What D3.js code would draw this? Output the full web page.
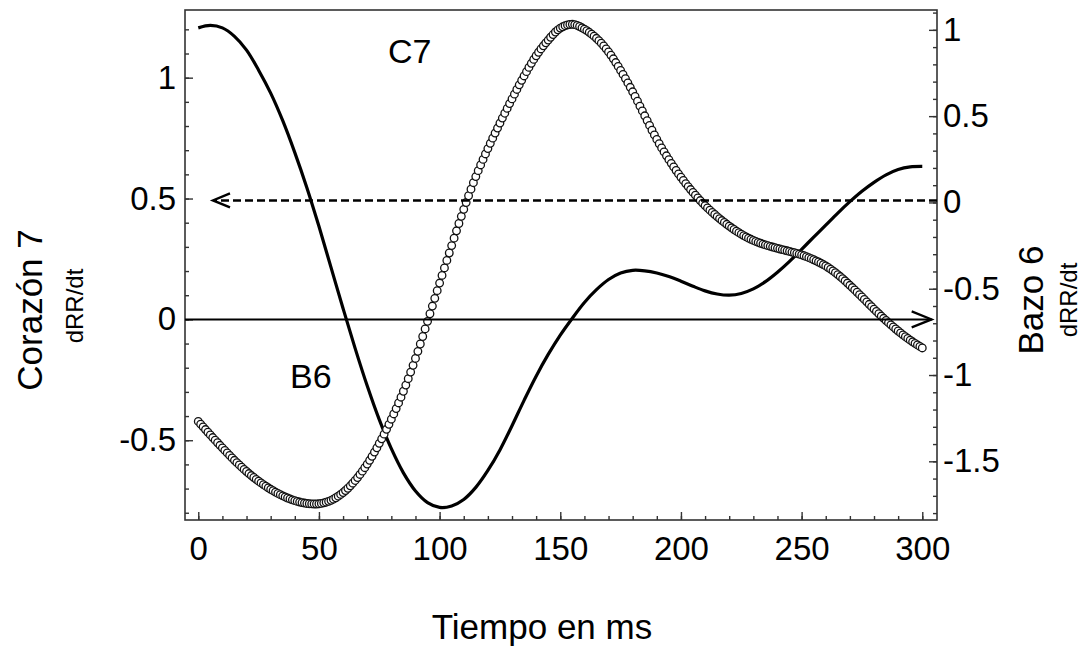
<!DOCTYPE html>
<html>
<head>
<meta charset="utf-8">
<script src="https://cdn.jsdelivr.net/npm/d3@7"></script>
<style>
  body { margin: 0; background: #fff; }
  text { font-family: "Liberation Sans", Arial, Helvetica, sans-serif; fill: #000; }
</style>
</head>
<body>
<svg width="1085" height="648"></svg>
<script>
// time axis (ms), one sample every 5 ms
var tiempo = d3.range(0, 301, 5);

// C7 - solid line, left axis
var corazon7 = [
  1.206, 1.216, 1.206, 1.171, 1.114, 1.031, 0.936, 0.822, 0.690, 0.545,
  0.385, 0.215, 0.045, -0.120, -0.275, -0.415, -0.535, -0.635, -0.710, -0.758,
  -0.778, -0.772, -0.745, -0.695, -0.625, -0.540, -0.440, -0.335, -0.235, -0.145,
  -0.065, 0.005, 0.070, 0.123, 0.165, 0.192, 0.203, 0.201, 0.192, 0.177,
  0.158, 0.137, 0.118, 0.105, 0.100, 0.107, 0.126, 0.156, 0.195, 0.240,
  0.290, 0.340, 0.390, 0.440, 0.487, 0.530, 0.567, 0.598, 0.620, 0.631,
  0.633
];

// B6 - open circles, right axis
var bazo6 = [
  -1.269, -1.347, -1.422, -1.494, -1.559, -1.615, -1.662, -1.700, -1.728, -1.744,
  -1.746, -1.726, -1.681, -1.611, -1.516, -1.396, -1.256, -1.094, -0.904, -0.689,
  -0.467, -0.250, -0.040, 0.150, 0.312, 0.460, 0.600, 0.733, 0.850, 0.941,
  1.010, 1.032, 1.004, 0.951, 0.872, 0.765, 0.641, 0.502, 0.365, 0.248,
  0.146, 0.058, -0.018, -0.082, -0.137, -0.184, -0.220, -0.246, -0.266, -0.284,
  -0.304, -0.332, -0.368, -0.418, -0.480, -0.548, -0.618, -0.684, -0.745, -0.798,
  -0.843
];

var xTicks = [0, 50, 100, 150, 200, 250, 300];
var yLeftTicks = [-0.5, 0, 0.5, 1];
var yRightTicks = [-1.5, -1, -0.5, 0, 0.5, 1];

var svg = d3.select("svg"),
    mLeft = 185, mRight = 937, mTop = 10, mBottom = 520;

var x = d3.scaleLinear().domain([-5.5, 306.1]).range([mLeft, mRight]);
var yL = d3.scaleLinear().domain([-0.83, 1.28]).range([mBottom, mTop]);
var yR = d3.scaleLinear().domain([-1.84, 1.115]).range([mBottom, mTop]);

var fmt = function (d) { return String(d); };

// minor ticks
svg.append("g")
    .attr("transform", "translate(0," + mBottom + ")")
    .call(d3.axisBottom(x).tickValues(d3.range(0, 301, 10)).tickSize(-4).tickFormat(""));
svg.append("g")
    .attr("transform", "translate(" + mLeft + ",0)")
    .call(d3.axisLeft(yL).tickValues(d3.range(-8, 13).map(function (d) { return d / 10; })).tickSize(-4).tickFormat(""));
svg.append("g")
    .attr("transform", "translate(" + mRight + ",0)")
    .call(d3.axisRight(yR).tickValues(d3.range(-18, 12).map(function (d) { return d / 10; })).tickSize(-4).tickFormat(""));

// major ticks + labels
svg.append("g")
    .attr("transform", "translate(0," + mBottom + ")")
    .call(d3.axisBottom(x).tickValues(xTicks).tickSize(-8).tickPadding(17).tickFormat(fmt));
svg.append("g")
    .attr("transform", "translate(" + mLeft + ",0)")
    .call(d3.axisLeft(yL).tickValues(yLeftTicks).tickSize(-8).tickPadding(9).tickFormat(fmt));
svg.append("g")
    .attr("transform", "translate(" + mRight + ",0)")
    .call(d3.axisRight(yR).tickValues(yRightTicks).tickSize(-8).tickPadding(6).tickFormat(fmt));

svg.selectAll(".domain").remove();
svg.selectAll(".tick line").attr("stroke", "#333").attr("stroke-width", 1.4);
svg.selectAll(".tick text").attr("font-size", 33).attr("fill", "#000")
    .style("font-family", "'Liberation Sans', Arial, sans-serif");

// frame
svg.append("rect")
    .attr("x", mLeft).attr("y", mTop)
    .attr("width", mRight - mLeft).attr("height", mBottom - mTop)
    .attr("fill", "none").attr("stroke", "#333").attr("stroke-width", 1.6);

var plot = svg.append("g");

// C7 solid curve
var lineL = d3.line()
    .x(function (d, i) { return x(tiempo[i]); })
    .y(function (d) { return yL(d); })
    .curve(d3.curveCatmullRom.alpha(0.5));

plot.append("path")
    .datum(corazon7)
    .attr("d", lineL)
    .attr("fill", "none")
    .attr("stroke", "#000")
    .attr("stroke-width", 3.2);

// B6 circles curve: markers placed along the drawn line, one per ms
var lineR = d3.line()
    .x(function (d, i) { return x(tiempo[i]); })
    .y(function (d) { return yR(d); })
    .curve(d3.curveCatmullRom.alpha(0.5));

var guide = plot.append("path")
    .datum(bazo6)
    .attr("d", lineR)
    .attr("fill", "none")
    .attr("stroke", "none");

var node = guide.node(),
    total = node.getTotalLength();

function pointAtX(px) {
    var lo = 0, hi = total, p;
    for (var k = 0; k < 40; k++) {
        var mid = (lo + hi) / 2;
        p = node.getPointAtLength(mid);
        if (p.x < px) lo = mid; else hi = mid;
    }
    return node.getPointAtLength((lo + hi) / 2);
}

var marks = d3.range(0, 301, 1).map(function (t) { return pointAtX(x(t)); });

plot.append("g")
    .selectAll("circle")
    .data(marks)
    .enter().append("circle")
    .attr("cx", function (d) { return d.x; })
    .attr("cy", function (d) { return d.y; })
    .attr("r", 3.8)
    .attr("fill", "#fff")
    .attr("stroke", "#111")
    .attr("stroke-width", 1.3);

// reference arrows
var arrowSolidY = yL(0),
    arrowSolidEnd = x(303.9);
plot.append("line")
    .attr("x1", mLeft).attr("x2", arrowSolidEnd)
    .attr("y1", arrowSolidY).attr("y2", arrowSolidY)
    .attr("stroke", "#000").attr("stroke-width", 2);
plot.append("path")
    .attr("d", "M" + (arrowSolidEnd - 20) + "," + (arrowSolidY - 8) + "L" + arrowSolidEnd + "," + arrowSolidY + "L" + (arrowSolidEnd - 20) + "," + (arrowSolidY + 8))
    .attr("fill", "none").attr("stroke", "#000").attr("stroke-width", 2.2);

var arrowDashY = (yL(0.5) + yR(0)) / 2,
    arrowDashEnd = x(6.1);
plot.append("line")
    .attr("x1", mRight).attr("x2", arrowDashEnd + 2)
    .attr("y1", arrowDashY).attr("y2", arrowDashY)
    .attr("stroke", "#000").attr("stroke-width", 2.6)
    .attr("stroke-dasharray", "8,4");
plot.append("path")
    .attr("d", "M" + (arrowDashEnd + 17) + "," + (arrowDashY - 7) + "L" + arrowDashEnd + "," + arrowDashY + "L" + (arrowDashEnd + 17) + "," + (arrowDashY + 7))
    .attr("fill", "none").attr("stroke", "#000").attr("stroke-width", 2.4);

// curve labels
plot.append("text").attr("x", x(78.6)).attr("y", yL(1.061)).attr("font-size", 34).text("C7");
plot.append("text").attr("x", x(38)).attr("y", yL(-0.284)).attr("font-size", 34).text("B6");

// axis titles
svg.append("text")
    .attr("x", (mLeft + mRight) / 2 - 19).attr("y", 639)
    .attr("text-anchor", "middle").attr("font-size", 35)
    .text("Tiempo en ms");

svg.append("text")
    .attr("transform", "translate(42,310) rotate(-90)")
    .attr("text-anchor", "middle").attr("font-size", 35)
    .text("Corazón 7");
svg.append("text")
    .attr("transform", "translate(83,306) rotate(-90)")
    .attr("text-anchor", "middle").attr("font-size", 24)
    .text("dRR/dt");

svg.append("text")
    .attr("transform", "translate(1043,300) rotate(-90)")
    .attr("text-anchor", "middle").attr("font-size", 35)
    .text("Bazo 6");
svg.append("text")
    .attr("transform", "translate(1077,300) rotate(-90)")
    .attr("text-anchor", "middle").attr("font-size", 24)
    .text("dRR/dt");
</script>
</body>
</html>
